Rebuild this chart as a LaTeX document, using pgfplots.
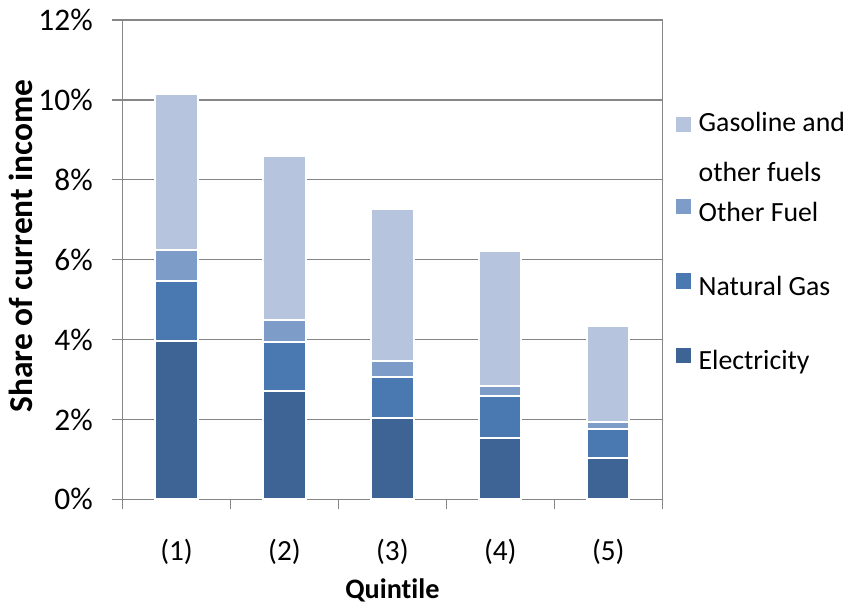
\documentclass[border=0pt]{standalone}
\usepackage{pgfplots}
\pgfplotsset{compat=1.18}
\usepackage{fontspec}
\setmainfont{Carlito}[Ligatures={NoCommon}]

\definecolor{elec}{RGB}{61,100,149}
\definecolor{ngas}{RGB}{74,120,176}
\definecolor{ofuel}{RGB}{126,156,200}
\definecolor{gasol}{RGB}{183,196,222}
\definecolor{gridgray}{RGB}{134,134,134}

% Energy spending as share of current income, by income quintile (percent)
\pgfplotstableread{
q   elec  ngas  ofuel  gasol
1   3.97  1.50  0.78   3.91
2   2.71  1.24  0.55   4.10
3   2.04  1.03  0.40   3.81
4   1.53  1.07  0.24   3.38
5   1.03  0.74  0.16   2.41
}\energy

\begin{document}
\fontsize{13.8}{16}\selectfont
\begin{tikzpicture}
\begin{axis}[
  scale only axis,
  width=268pt, height=238pt,
  ybar stacked, bar width=21pt,
  xmin=0.5, xmax=5.5, ymin=0, ymax=12,
  xtick={0.5,1.5,...,5.5}, xticklabels={},
  extra x ticks={1,2,3,4,5},
  extra x tick labels={(1),(2),(3),(4),(5)},
  extra x tick style={major tick length=0pt, grid=none,
    xticklabel style={yshift=-15pt, font=\fontsize{14.5}{16}\selectfont}},
  ytick={0,2,...,12},
  yticklabel={\pgfmathprintnumber{\tick}\%},
  yticklabel style={xshift=-5pt, font=\fontsize{15.6}{18}\selectfont},
  /pgf/number format/assume math mode=true,
  ymajorgrids,
  grid style={gridgray, line width=0.6pt},
  axis line style={gridgray, line width=0.6pt},
  tick style={gridgray, line width=0.6pt},
  tick align=outside, major tick length=5pt,
  xtick pos=bottom, ytick pos=left,
  xlabel={\bfseries Quintile},
  ylabel={\bfseries Share of current income},
  xlabel style={at={(axis description cs:0.5,-0.190)}, anchor=center,
    font=\fontsize{14}{16}\selectfont},
  ylabel style={at={(axis description cs:-0.188,0.529)}, anchor=center,
    font=\fontsize{16.6}{19}\selectfont},
  every axis plot/.append style={draw=white, line width=1pt},
  legend image code/.code={\fill[#1, draw=white, line width=0.4pt] (0pt,-0.3pt) rectangle (8pt,7.7pt);},
  reverse legend,
  legend cell align=left,
  legend style={draw=none, fill=none, inner sep=0pt,
    at={(axis description cs:1,0.810)}, anchor=north west, xshift=6pt,
    row sep=22.5pt, column sep=3.5pt,
    nodes={inner sep=0pt, text height=10pt, text depth=3pt}},
]
\addplot[fill=elec]  table[x=q, y=elec]  {\energy};
\addlegendentry{Electricity}
\addplot[fill=ngas]  table[x=q, y=ngas]  {\energy};
\addlegendentry{Natural Gas}
\addplot[fill=ofuel] table[x=q, y=ofuel] {\energy};
\addlegendentry{Other Fuel}
\addplot[fill=gasol] table[x=q, y=gasol] {\energy};
\addlegendentry[text depth=10.5pt]{\begin{tabular}[t]{@{}l@{}}Gasoline and\\[8.5pt]other fuels\end{tabular}}
\end{axis}
\end{tikzpicture}
\end{document}
